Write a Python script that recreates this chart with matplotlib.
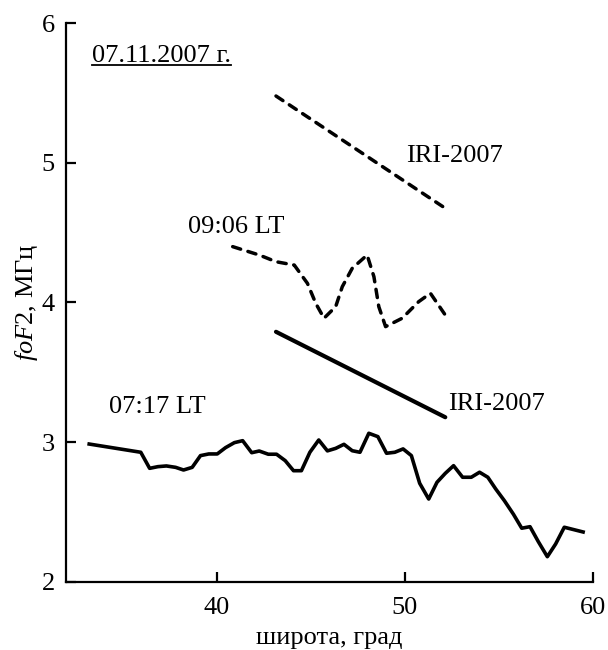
import matplotlib
matplotlib.use("Agg")
import matplotlib.pyplot as plt
from matplotlib.lines import Line2D

plt.rcParams['font.family'] = ['Liberation Serif', 'DejaVu Serif']
plt.rcParams['mathtext.fontset'] = 'custom'
plt.rcParams['mathtext.rm'] = 'Liberation Serif'
plt.rcParams['mathtext.it'] = 'Liberation Serif:italic'

# 07:17 LT measured foF2
lat_0717 = [33.23, 35.97, 36.44, 36.88, 37.33, 37.82, 38.24, 38.70, 39.14, 39.58,
            40.03, 40.47, 40.94, 41.38, 41.86, 42.26, 42.74, 43.18, 43.64, 44.08,
            44.50, 44.95, 45.42, 45.88, 46.32, 46.76, 47.20, 47.61, 48.08, 48.56,
            49.02, 49.46, 49.90, 50.34, 50.78, 51.26, 51.70, 52.14, 52.58, 53.06,
            53.52, 53.96, 54.40, 54.82, 55.28, 55.76, 56.20, 56.64, 57.08, 57.56,
            58.00, 58.46, 59.46]
fo_0717 = [2.986, 2.927, 2.812, 2.824, 2.829, 2.819, 2.800, 2.819, 2.903, 2.915,
           2.915, 2.960, 2.996, 3.010, 2.924, 2.936, 2.913, 2.913, 2.867, 2.795,
           2.795, 2.927, 3.015, 2.937, 2.955, 2.984, 2.938, 2.927, 3.063, 3.039,
           2.920, 2.927, 2.951, 2.903, 2.705, 2.592, 2.712, 2.776, 2.831, 2.748,
           2.748, 2.784, 2.748, 2.664, 2.580, 2.483, 2.383, 2.394, 2.287, 2.179,
           2.270, 2.390, 2.356]

# 09:06 LT measured foF2
lat_0906 = [40.85, 42.26, 43.15, 44.12, 44.82, 45.26, 45.70, 46.32, 46.67, 47.20,
            47.99, 48.35, 48.61, 48.97, 49.85, 50.73, 51.35, 52.14]
fo_0906 = [4.40, 4.34, 4.292, 4.268, 4.137, 3.994, 3.887, 3.97, 4.113, 4.245,
           4.34, 4.185, 3.97, 3.827, 3.887, 4.006, 4.066, 3.91]

# IRI-2007 model
lat_iri = [43.15, 52.14]
iri_0717 = [3.79, 3.178]
iri_0906 = [5.479, 4.675]

fig = plt.figure(figsize=(6.08, 6.5), dpi=100)
ax = fig.add_axes([0.1086, 0.1051, 0.8672, 0.8591])

ax.plot(lat_0717, fo_0717, color='black', lw=2.6, solid_joinstyle='round')
ax.plot(lat_iri, iri_0717, color='black', lw=3.0, solid_capstyle='round')
ax.plot(lat_0906, fo_0906, color='black', lw=2.5, linestyle=(0, (2.4, 2.2)),
        dash_capstyle='round')
ax.plot(lat_iri, iri_0906, color='black', lw=2.5, linestyle=(0, (2.4, 2.2)),
        dash_capstyle='round')

fs = 19
ax.text(50.04, 5.05, 'IRI-2007', fontsize=fs, va='center', ha='left')
ax.text(52.3, 3.23, 'IRI-2007', fontsize=fs, va='baseline', ha='left')
ax.text(38.46, 4.496, '09:06 LT', fontsize=fs, va='baseline', ha='left')
ax.text(34.29, 3.206, '07:17 LT', fontsize=fs, va='baseline', ha='left')
date = ax.text(33.38, 5.725, '07.11.2007 г.', fontsize=fs, va='baseline', ha='left')

ax.set_xlim(32, 60)
ax.set_ylim(2, 6)
ax.set_xticks([40, 50, 60])
ax.set_yticks([2, 3, 4, 5, 6])
ax.spines['top'].set_visible(False)
ax.spines['right'].set_visible(False)
for s in ['left', 'bottom']:
    ax.spines[s].set_linewidth(1.6)
ax.tick_params(axis='x', direction='in', length=7, width=1.6, labelsize=fs, pad=11)
ax.tick_params(axis='y', direction='in', length=7, width=1.6, labelsize=fs, pad=8)

ax.set_xlabel('широта, град', fontsize=fs, labelpad=6)
ax.set_ylabel(r'$\mathit{foF2}$, МГц', fontsize=fs, labelpad=1)

# underline the date
fig.canvas.draw()
bb = date.get_window_extent()
inv = fig.transFigure.inverted()
x0, y0 = inv.transform((bb.x0, bb.y0 + 2))
x1, _ = inv.transform((bb.x1, bb.y0 + 2))
fig.add_artist(Line2D([x0, x1], [y0, y0], color='black', lw=1.3,
                      transform=fig.transFigure))

fig.savefig('out.png', dpi=100)
